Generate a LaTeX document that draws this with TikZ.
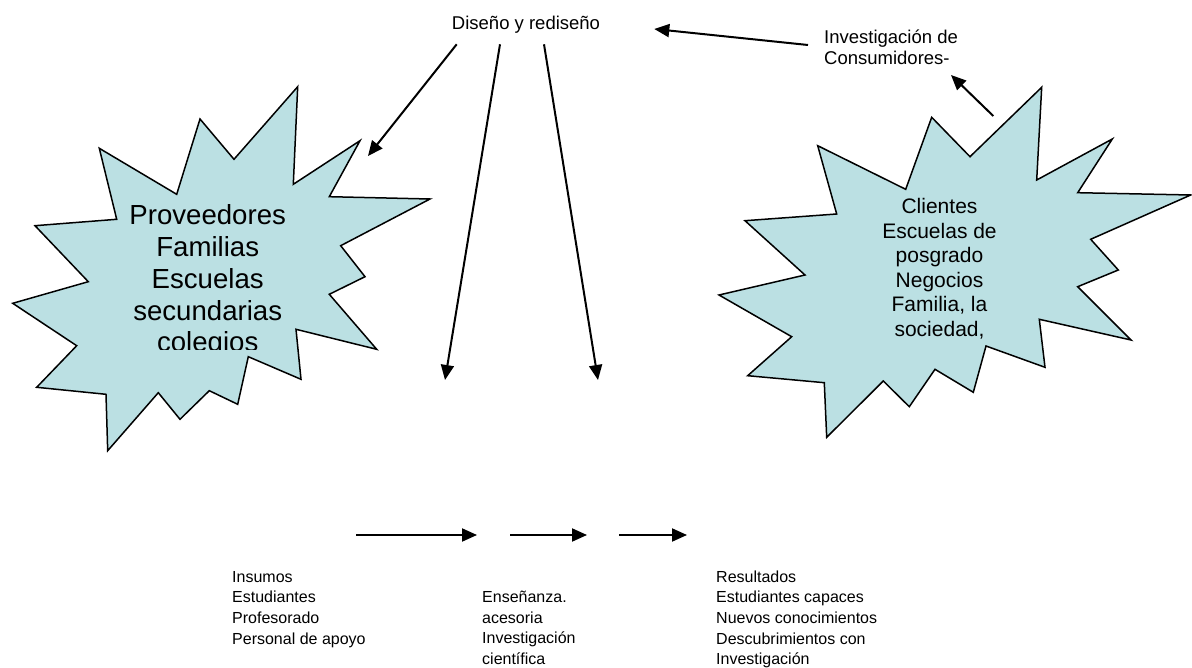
\documentclass[tikz,border=0pt]{standalone}
\usepackage{fontspec}
\setmainfont{Liberation Sans}
\usetikzlibrary{arrows.meta}
\definecolor{starfill}{RGB}{187,224,227}
\begin{document}
\begin{tikzpicture}[x=1pt,y=-1pt,
  burst/.style={draw=black, line width=1.5pt, fill=starfill, line join=miter},
  arr/.style={-{Triangle[length=15pt,width=13pt]}, line width=2pt},
  txt/.style={inner sep=0pt, anchor=base},
  txtw/.style={inner sep=0pt, anchor=base west},
  topfont/.style={font=\fontsize{18.5}{21}\selectfont},
  botfont/.style={font=\fontsize{16}{20.7}\selectfont},
  bigfont/.style={font=\fontsize{27.6}{31.7}\selectfont},
  midfont/.style={font=\fontsize{21}{24.5}\selectfont}]
\useasboundingbox (0,0) rectangle (1192,668);

% left starburst
\draw[burst] (297.7,86.7) -- (293.3,184.3) -- (360,140.7) -- (329.3,196.7) -- (430,199) -- (340.7,245.7) -- (365,276.7) -- (329.3,294.3) -- (376.7,349.3) -- (296,329.3) -- (301,379.3) -- (248.3,356.7) -- (237.7,404.3) -- (209.3,390.7) -- (180,419.3) -- (158.3,392.7) -- (107.7,450.7) -- (106,394.3) -- (36.7,387.3) -- (76.7,345.7) -- (12.7,303.3) -- (88.3,281.7) -- (35,225.7) -- (116.7,219.3) -- (99.3,148.3) -- (176.7,194.3) -- (200,119) -- (234,159.3) -- cycle;

% right starburst
\draw[burst] (1041.7,87.3) -- (1036.7,180) -- (1112.3,139) -- (1077.7,192.7) -- (1190.7,195) -- (1090.7,239.3) -- (1118.3,270) -- (1077.7,286.7) -- (1131,340) -- (1039.3,319.3) -- (1045,367.3) -- (986,346) -- (973.3,392.3) -- (935,369.3) -- (909.3,406.7) -- (883.3,381) -- (826.7,437.3) -- (824.3,382.7) -- (747.7,375.7) -- (791.7,336.7) -- (719,295) -- (805,275) -- (745,220.7) -- (836.7,214) -- (817.7,145.7) -- (905.7,189.3) -- (931.7,117.3) -- (970,156.7) -- cycle;

% star texts
\begin{scope}
\clip (0,0) rectangle (1192,349.5);
\node[txt, bigfont] (prov) at (207.7,225) {\begin{tabular}[t]{@{}c@{}}Proveedores\\Familias\\Escuelas\\secundarias\\colegios\end{tabular}};
\end{scope}
\node[txt, midfont] (cli) at (939.5,214) {\begin{tabular}[t]{@{}c@{}}Clientes\\Escuelas de\\posgrado\\Negocios\\Familia, la\\sociedad,\end{tabular}};

% top texts
\node[txt, topfont] (dis) at (526,29.3) {Diseño y rediseño};
\node[txtw, topfont] (inv) at (824,43.3) {\begin{tabular}[t]{@{}l@{}}Investigación de\\Consumidores-\end{tabular}};

% bottom texts
\node[txtw, botfont] (ins) at (232,582) {\begin{tabular}[t]{@{}l@{}}Insumos\\Estudiantes\\Profesorado\\Personal de apoyo\end{tabular}};
\node[txtw, botfont] (ens) at (482,602.5) {\begin{tabular}[t]{@{}l@{}}Enseñanza.\\acesoria\\Investigación\\científica\end{tabular}};
\node[txtw, botfont] (res) at (716,582) {\begin{tabular}[t]{@{}l@{}}Resultados\\Estudiantes capaces\\Nuevos conocimientos\\Descubrimientos con\\Investigación\end{tabular}};

% arrow coordinates
\coordinate (d1) at (456.7,44.3);
\coordinate (d1e) at (368,156);
\coordinate (d2) at (500,44.3);
\coordinate (d2e) at (445,380);
\coordinate (d3) at (544,44.3);
\coordinate (d3e) at (598,380);
\coordinate (i1) at (808,45);
\coordinate (i1e) at (654.3,29);
\coordinate (s1) at (993.3,116);
\coordinate (s1e) at (951,75);
\coordinate (b1) at (356,535);
\coordinate (b1e) at (477,535);
\coordinate (b2) at (510,535);
\coordinate (b2e) at (587,535);
\coordinate (b3) at (619,535);
\coordinate (b3e) at (687,535);

\draw[arr] (d1) -- (d1e);
\draw[arr] (d2) -- (d2e);
\draw[arr] (d3) -- (d3e);
\draw[arr] (i1) -- (i1e);
\draw[arr] (s1) -- (s1e);
\draw[arr] (b1) -- (b1e);
\draw[arr] (b2) -- (b2e);
\draw[arr] (b3) -- (b3e);
\end{tikzpicture}
\end{document}
